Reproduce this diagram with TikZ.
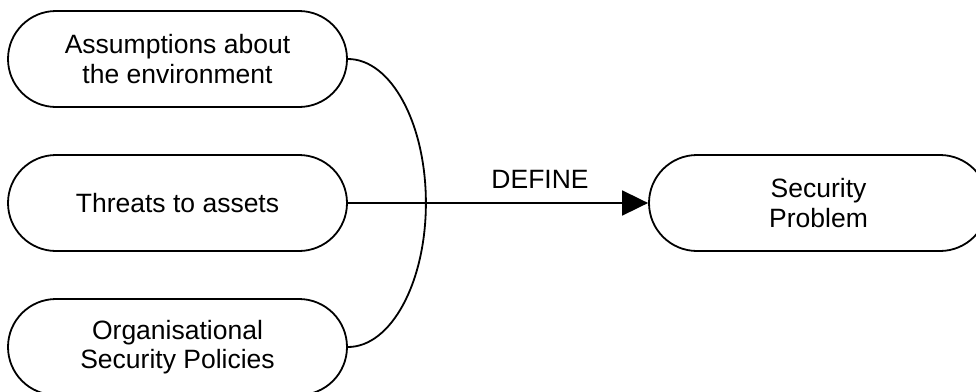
\documentclass[tikz,border=0pt]{standalone}
\usepackage{fontspec}
\setmainfont{Liberation Sans}
\usetikzlibrary{shapes.misc,arrows.meta}
\begin{document}
\begin{tikzpicture}[x=1pt,y=-1pt,
  pill/.style={draw=black, line width=1.8pt, rounded rectangle, rounded rectangle arc length=180,
    minimum width=339pt, minimum height=96pt, align=center, inner sep=0pt,
    font=\fontsize{26.5}{29.5}\selectfont},
  conn/.style={draw=black, line width=1.8pt},
  lbl/.style={font=\fontsize{26.5}{29.5}\selectfont, inner sep=0pt}]
\useasboundingbox (0,0) rectangle (976,391);
\clip (0,0) rectangle (976,391);
\node[pill] (b1) at (177.5,59) {Assumptions about\\the environment};
\node[pill] (b2) at (177.5,203) {Threats to assets};
\node[pill] (b3) at (177.5,347) {Organisational\\Security Policies};
\node[pill] (sp) at (818.5,203) {Security\\Problem};
\draw[conn] (b1.east) arc[start angle=90, end angle=-90, x radius=78pt, y radius=144pt];
\draw[conn, -{Triangle[length=26pt,width=25pt]}] (b2.east) -- (sp.west)
  node[lbl, pos=0.64, anchor=base, yshift=15pt] (def) {DEFINE};
\end{tikzpicture}
\end{document}
